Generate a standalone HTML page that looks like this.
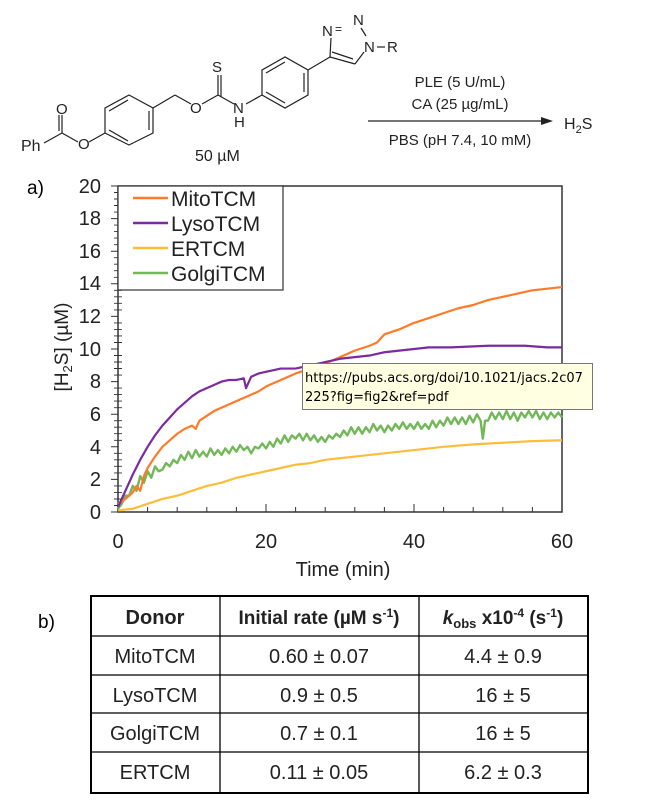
<!DOCTYPE html><html><head><style>body{margin:0;background:#fff}svg{display:block;font-family:"Liberation Sans",Arial,sans-serif}</style></head><body>
<svg width="646" height="812" viewBox="0 0 646 812">
<!-- structure -->
<g stroke="#222" stroke-width="1.2" fill="none">
<polygon points="129,95 153,108 153,133 129,145 105,133 105,108"/>
<line x1="128" y1="100" x2="109" y2="111"/><line x1="149" y1="111" x2="149" y2="130"/><line x1="109" y1="130" x2="128" y2="141"/>
<line x1="105" y1="133" x2="89" y2="142"/><line x1="78" y1="142" x2="62" y2="133"/><line x1="62" y1="133" x2="44" y2="143"/>
<line x1="62" y1="133" x2="62" y2="115"/><line x1="59" y1="131" x2="59" y2="115"/>
<line x1="153" y1="108" x2="175" y2="95"/><line x1="175" y1="95" x2="191" y2="104"/>
<line x1="202" y1="104" x2="218" y2="95"/><line x1="218" y1="95" x2="218" y2="75"/><line x1="221" y1="97" x2="221" y2="75"/>
<line x1="218" y1="95" x2="234" y2="104"/><line x1="246" y1="104" x2="262" y2="95"/>
<polygon points="262,95 262,70 285,57 308,70 308,95 285,108"/>
<line x1="266" y1="73" x2="285" y2="62"/><line x1="304" y1="73" x2="304" y2="92"/><line x1="266" y1="92" x2="285" y2="103"/>
<line x1="308" y1="70" x2="330" y2="57"/><line x1="330" y1="57" x2="355" y2="64"/><line x1="332" y1="52" x2="353" y2="59"/>
<line x1="330" y1="57" x2="331" y2="38"/><line x1="355" y1="64" x2="364" y2="52"/><line x1="361" y1="28" x2="366" y2="36"/>
<line x1="377" y1="47" x2="385" y2="47"/>
<line x1="368" y1="121" x2="543" y2="121"/>
</g>
<polygon points="553,121 541,117 541,125" fill="#222"/>
<g font-size="15" fill="#222">
<text x="21" y="151" font-size="16">Ph</text>
<text x="56" y="114">O</text><text x="78" y="149">O</text><text x="190" y="113">O</text>
<text x="212" y="72">S</text><text x="233" y="113">N</text><text x="234" y="127">H</text>
<text x="322" y="36">N</text><text x="335" y="33" font-size="12">=</text><text x="353" y="25">N</text>
<text x="364" y="52">N</text><text x="387" y="52">R</text>
<text x="195" y="161" font-size="16">50 µM</text>
<text x="460" y="87" text-anchor="middle">PLE (5 U/mL)</text>
<text x="460" y="109" text-anchor="middle">CA (25 µg/mL)</text>
<text x="460" y="145" text-anchor="middle">PBS (pH 7.4, 10 mM)</text>
<text x="564" y="129" font-size="16">H<tspan font-size="11" dy="4">2</tspan><tspan dy="-4">S</tspan></text>
</g>
<text x="27" y="194" font-size="19">a)</text>
<text x="38" y="628" font-size="19">b)</text>
<!-- axes -->
<rect x="118" y="186" width="444" height="326" fill="none" stroke="#333" stroke-width="1.5"/>
<g stroke="#333" stroke-width="1">
<path d="M118,512v-6M147.6,512v-5M177.2,512v-5M206.8,512v-5M236.4,512v-5M266,512v-8M295.6,512v-5M325.2,512v-5M354.8,512v-5M384.4,512v-5M414,512v-8M443.6,512v-5M473.2,512v-5M502.8,512v-5M532.4,512v-5"/>
<path d="M111,512h7M111,479.4h7M111,446.8h7M111,414.2h7M111,381.6h7M111,349h7M111,316.4h7M111,283.8h7M111,251.2h7M111,218.6h7M111,186h7"/>
</g>
<g stroke="#333" stroke-width="0.9" id="mt"></g>
<path stroke="#333" stroke-width="0.9" d="M114,505.5h8M114,499h8M114,492.4h8M114,485.9h8M114,472.9h8M114,466.3h8M114,459.8h8M114,453.3h8M114,440.3h8M114,433.7h8M114,427.2h8M114,420.7h8M114,407.7h8M114,401.1h8M114,394.6h8M114,388.1h8M114,375.1h8M114,368.5h8M114,362h8M114,355.5h8M114,342.5h8M114,335.9h8M114,329.4h8M114,322.9h8M114,309.9h8M114,303.3h8M114,296.8h8M114,290.3h8M114,277.3h8M114,270.7h8M114,264.2h8M114,257.7h8M114,244.7h8M114,238.1h8M114,231.6h8M114,225.1h8M114,212.1h8M114,205.5h8M114,199h8M114,192.5h8"/>
<g font-size="20" text-anchor="end" fill="#222">
<text x="101" y="519">0</text><text x="101" y="486">2</text><text x="101" y="454">4</text><text x="101" y="421">6</text><text x="101" y="388">8</text><text x="101" y="356">10</text><text x="101" y="323">12</text><text x="101" y="290">14</text><text x="101" y="258">16</text><text x="101" y="225">18</text><text x="101" y="193">20</text>
</g>
<g font-size="20" text-anchor="middle" fill="#222"><text x="118" y="548">0</text><text x="266" y="548">20</text><text x="414" y="548">40</text><text x="562" y="548">60</text>
<text x="343" y="576">Time (min)</text></g>
<text transform="translate(68,347) rotate(-90)" font-size="19" text-anchor="middle" fill="#222">[H<tspan font-size="13" dy="4">2</tspan><tspan dy="-4">S] (µM)</tspan></text>
<!-- series -->
<g transform="translate(118,512) scale(7.4,-16.3)" fill="none" stroke-linejoin="round">
<polyline vector-effect="non-scaling-stroke" stroke="#fdbd3a" stroke-width="2.2" points="0,0.1 2,0.2 4,0.5 6,0.8 8,1 10,1.3 12,1.6 14,1.8 16,2.1 18,2.3 20,2.5 22,2.7 24,2.9 26,3 28,3.2 30,3.3 32,3.4 34,3.5 36,3.6 38,3.7 40,3.8 44,4 48,4.15 52,4.25 56,4.35 60,4.4"/>
<polyline vector-effect="non-scaling-stroke" stroke="#72b858" stroke-width="2.4" points="0,0.2 .5,0.5 1,1.0 1.5,1.0 2,1.6 2.5,1.3 3,2.2 3.5,1.8 4,2.5 4.5,2.1 5,2.8 5.5,2.5 6,2.6 6.5,3.0 7,2.8 7.5,3.2 8,3.0 8.5,3.5 9,3.2 9.5,3.7 10,3.3 10.5,3.8 11,3.4 11.5,3.7 12,3.4 12.5,3.9 13,3.5 13.5,3.8 14,3.5 14.5,3.9 15,3.6 15.5,4.0 16,3.7 16.5,4.1 17,3.8 17.5,4.0 18,3.6 18.5,4.0 19,3.9 19.5,4.2 20,3.9 20.5,4.3 21,4.0 21.5,4.5 22,4.2 22.5,4.7 23,4.3 23.5,4.7 24,4.5 24.5,4.8 25,4.4 25.5,4.8 26,4.4 26.5,4.7 27,4.3 27.5,4.6 28,4.3 28.5,4.7 29,4.5 29.5,4.8 30,4.6 30.5,5.0 31,4.7 31.5,5.2 32,4.8 32.5,5.2 33,4.8 33.5,5.2 34,4.9 34.5,5.4 35,5.0 35.5,5.3 36,4.9 36.5,5.3 37,5.0 37.5,5.4 38,5.1 38.5,5.5 39,5.1 39.5,5.4 40,5.1 40.5,5.5 41,5.1 41.5,5.4 42,5.1 42.5,5.6 43,5.2 43.5,5.6 44,5.3 44.5,5.8 45,5.4 45.5,5.8 46,5.4 46.5,5.8 47,5.4 47.5,5.9 48,5.5 48.5,6.0 49,5.6 49.3,4.5 49.6,5.6 50,5.6 50.5,6.1 51,5.7 51.5,6.1 52,5.7 52.5,6.2 53,5.7 53.5,6.1 54,5.6 54.5,6.1 55,5.8 55.5,6.2 56,5.8 56.5,6.2 57,5.7 57.5,6.1 58,5.7 58.5,6.1 59,5.8 59.5,6.1 60,5.8"/>
<polyline vector-effect="non-scaling-stroke" stroke="#ff7a2a" stroke-width="2.2" points="0,0.5 1,0.8 2,1.2 2.5,1.6 3,1.3 3.5,2.2 4,2.7 5,3.4 6,4 7,4.4 8,4.8 9,5.1 10,5.3 10.5,5.1 11,5.6 12,5.9 13,6.2 14,6.4 15,6.6 16,6.8 17,7 18,7.2 19,7.4 20,7.7 22,8.1 24,8.5 26,8.8 28,9.1 30,9.5 32,9.9 34,10.2 35,10.4 36,10.9 38,11.2 40,11.6 42,11.9 44,12.2 46,12.5 48,12.7 50,13 52,13.2 54,13.4 56,13.6 58,13.7 60,13.8"/>
<polyline vector-effect="non-scaling-stroke" stroke="#7b2aa0" stroke-width="2.2" points="0,0.3 1,1.3 2,2.3 3,3.2 4,4 5,4.7 6,5.3 7,5.8 8,6.3 9,6.7 10,7.1 11,7.4 12,7.6 13,7.8 14,8 15,8.1 16,8.1 17,8.2 17.3,7.6 17.6,7.9 18,8.3 19,8.5 20,8.6 22,8.8 24,8.8 26,9 28,9.2 30,9.4 32,9.5 34,9.6 36,9.8 38,9.9 40,10 42,10.1 45,10.1 50,10.2 55,10.2 58,10.1 60,10.1"/>
</g>
<!-- legend -->
<rect x="118" y="186" width="165" height="104" fill="#fff" stroke="#333" stroke-width="1.2"/>
<g stroke-width="2.5"><line x1="133" y1="198" x2="168" y2="198" stroke="#ff7a2a"/><line x1="133" y1="223" x2="168" y2="223" stroke="#7b2aa0"/><line x1="133" y1="248" x2="168" y2="248" stroke="#fdbd3a"/><line x1="133" y1="273" x2="168" y2="273" stroke="#72b858"/></g>
<g font-size="21" fill="#222"><text x="171" y="206">MitoTCM</text><text x="171" y="231">LysoTCM</text><text x="171" y="256">ERTCM</text><text x="171" y="281">GolgiTCM</text></g>
<!-- tooltip -->
<rect x="302.5" y="363.5" width="290" height="46" fill="#ffffe1" stroke="#777"/>
<g font-family="DejaVu Sans,sans-serif" font-size="13"><text x="305" y="382">https://pubs.acs.org/doi/10.1021/jacs.2c07</text><text x="305" y="401">225?fig=fig2&amp;ref=pdf</text></g>
<!-- table -->
<g stroke="#000" fill="none"><rect x="91" y="596" width="497" height="197" stroke-width="2"/>
<path d="M91,636H588M91,675H588M91,713H588M91,752H588M220,596V793M419,596V793" stroke-width="1.3"/></g>
<g font-size="20" text-anchor="middle" fill="#222">
<text x="155" y="624" font-weight="bold">Donor</text>
<text x="319" y="624" font-weight="bold" font-size="19">Initial rate (µM s<tspan font-size="12" dy="-7">-1</tspan><tspan dy="7">)</tspan></text>
<text x="503" y="624" font-weight="bold" font-size="19"><tspan font-style="italic">k</tspan><tspan font-size="13" dy="4">obs</tspan><tspan dy="-4"> x10</tspan><tspan font-size="12" dy="-7">-4</tspan><tspan dy="7"> (s</tspan><tspan font-size="12" dy="-7">-1</tspan><tspan dy="7">)</tspan></text>
<text x="155" y="663">MitoTCM</text><text x="319" y="663">0.60 ± 0.07</text><text x="503" y="663">4.4 ± 0.9</text>
<text x="155" y="702">LysoTCM</text><text x="319" y="702">0.9 ± 0.5</text><text x="503" y="702">16 ± 5</text>
<text x="155" y="740">GolgiTCM</text><text x="319" y="740">0.7 ± 0.1</text><text x="503" y="740">16 ± 5</text>
<text x="155" y="779">ERTCM</text><text x="319" y="779">0.11 ± 0.05</text><text x="503" y="779">6.2 ± 0.3</text>
</g>
</svg></body></html>
